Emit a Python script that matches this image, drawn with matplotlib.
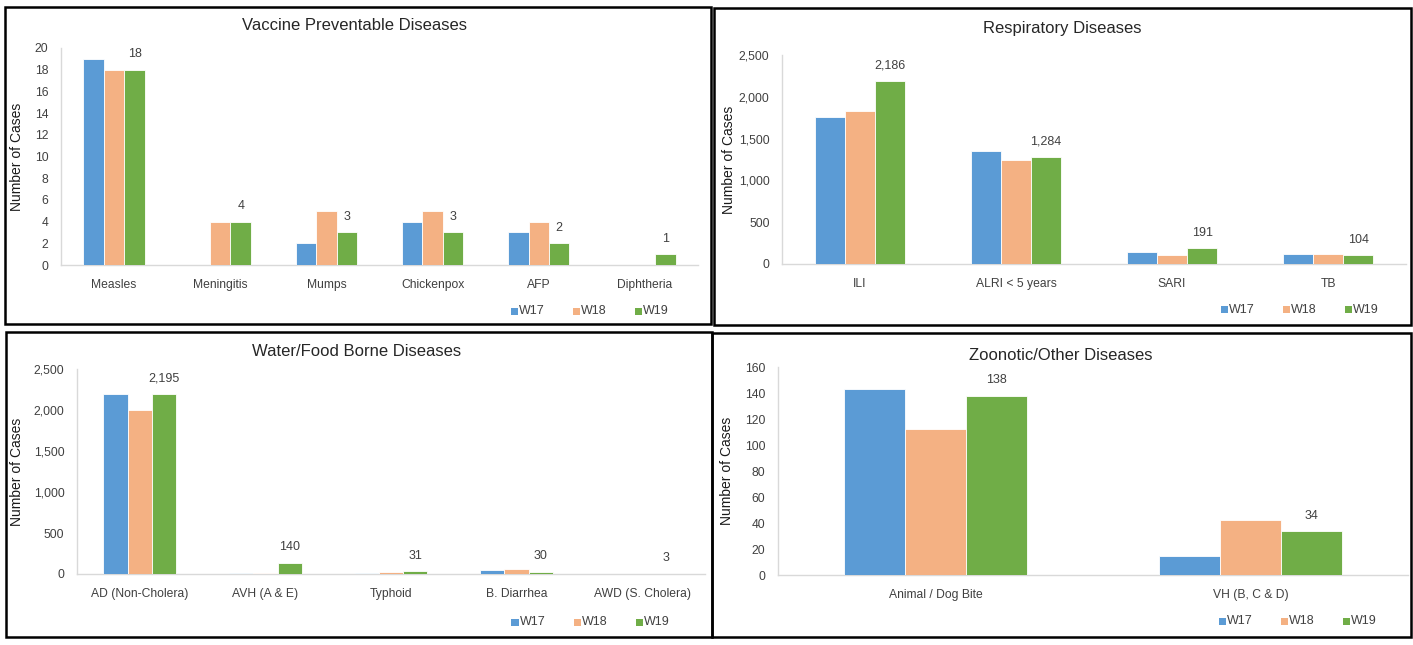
import matplotlib
matplotlib.use("Agg")
import matplotlib.pyplot as plt
from matplotlib.patches import Rectangle
from matplotlib.ticker import FuncFormatter
import numpy as np

# ---------------- data ----------------
series_names = ["W17", "W18", "W19"]

vpd_categories = ["Measles", "Meningitis", "Mumps", "Chickenpox", "AFP", "Diphtheria"]
vpd_w17 = [19, 0, 2, 4, 3, 0]
vpd_w18 = [18, 4, 5, 5, 4, 0]
vpd_w19 = [18, 4, 3, 3, 2, 1]
vpd_ticks = [0, 2, 4, 6, 8, 10, 12, 14, 16, 18, 20]

resp_categories = ["ILI", "ALRI < 5 years", "SARI", "TB"]
resp_w17 = [1764, 1357, 145, 125]
resp_w18 = [1830, 1243, 110, 115]
resp_w19 = [2186, 1284, 191, 104]
resp_ticks = [0, 500, 1000, 1500, 2000, 2500]

wfb_categories = ["AD (Non-Cholera)", "AVH (A & E)", "Typhoid", "B. Diarrhea", "AWD (S. Cholera)"]
wfb_w17 = [2200, 12, 16, 45, 0]
wfb_w18 = [2000, 10, 28, 65, 0]
wfb_w19 = [2195, 140, 31, 30, 3]
wfb_ticks = [0, 500, 1000, 1500, 2000, 2500]

zoo_categories = ["Animal / Dog Bite", "VH (B, C & D)"]
zoo_w17 = [143, 15]
zoo_w18 = [112, 42]
zoo_w19 = [138, 34]
zoo_ticks = [0, 20, 40, 60, 80, 100, 120, 140, 160]

titles = ["Vaccine Preventable Diseases", "Respiratory Diseases",
          "Water/Food Borne Diseases", "Zoonotic/Other Diseases"]

colors = ["#5B9BD5", "#F4B183", "#70AD47"]

# ---------------- layout ----------------
W, H = 1413, 645
fig = plt.figure(figsize=(W / 100, H / 100), dpi=100)
fig.patch.set_facecolor("white")

TICK_FONT = ["Liberation Sans", "DejaVu Sans"]
TITLE_FONT = ["Liberation Sans", "DejaVu Sans"]
TXT = "#404040"


def px_rect(x0, y0, x1, y1):
    return [x0 / W, 1 - y1 / H, (x1 - x0) / W, (y1 - y0) / H]


def frame(x0, y0, x1, y1):
    fig.patches.append(Rectangle((x0 / W, 1 - y1 / H), (x1 - x0) / W, (y1 - y0) / H,
                                 transform=fig.transFigure, fill=False,
                                 edgecolor="black", linewidth=1.8, zorder=10))


def fmt_thousands(v, pos):
    return f"{int(v):,}"


def panel(box, plot, cats, data, ticks, title, title_xy, ylabel_x, legend_y, legend_x0):
    frame(*box)
    ax = fig.add_axes(px_rect(*plot))
    n = len(cats)
    x = np.arange(n)
    bw = 0.193
    for i, (vals, c) in enumerate(zip(data, colors)):
        ax.bar(x + (i - 1) * bw, vals, width=bw, color=c, edgecolor="white",
               linewidth=0.6, label=series_names[i], zorder=3)
    # data labels for W19
    for xi, v in zip(x, data[2]):
        ax.annotate(f"{v:,}", (xi + bw, v), xytext=(0, 11), textcoords="offset points",
                    ha="center", va="center", fontsize=9, color=TXT, family=TICK_FONT)
    ax.set_xlim(-0.5, n - 0.5)
    ax.set_ylim(ticks[0], ticks[-1])
    ax.set_yticks(ticks)
    ax.yaxis.set_major_formatter(FuncFormatter(fmt_thousands))
    ax.set_xticks(x)
    ax.set_xticklabels(cats)
    ax.tick_params(axis="both", length=0, labelsize=8.7, colors=TXT)
    ax.tick_params(axis="x", pad=10)
    ax.tick_params(axis="y", pad=9)
    for lab in ax.get_xticklabels() + ax.get_yticklabels():
        lab.set_family(TICK_FONT)
    for s in ["top", "right"]:
        ax.spines[s].set_visible(False)
    for s in ["left", "bottom"]:
        ax.spines[s].set_color("#D9D9D9")
        ax.spines[s].set_linewidth(1.0)
    ax.set_facecolor("none")
    # title
    fig.text(title_xy[0] / W, 1 - title_xy[1] / H, title, ha="center", va="center",
             fontsize=12, color="#262626", family=TITLE_FONT)
    # y label
    yc = (plot[1] + plot[3]) / 2
    fig.text(ylabel_x / W, 1 - yc / H, "Number of Cases", rotation=90, ha="center",
             va="center", fontsize=10, color="#1a1a1a", family=TITLE_FONT)
    # legend
    for i, name in enumerate(series_names):
        lx = legend_x0 + i * 62
        fig.patches.append(Rectangle(((lx - 3.5) / W, 1 - (legend_y + 3.5) / H), 7 / W, 7 / H,
                                     transform=fig.transFigure, facecolor=colors[i],
                                     edgecolor="none"))
        fig.text((lx + 5) / W, 1 - legend_y / H, name, ha="left", va="center",
                 fontsize=9, color=TXT, family=TICK_FONT)
    return ax


panel((5, 7, 711, 324), (61, 48, 698, 265), vpd_categories,
      [vpd_w17, vpd_w18, vpd_w19], vpd_ticks, titles[0], (354, 25), 17, 311, 514)
panel((714, 8, 1411, 325), (782, 55, 1406, 264), resp_categories,
      [resp_w17, resp_w18, resp_w19], resp_ticks, titles[1], (1062, 29), 729, 310, 1224)
panel((6, 332, 712, 637), (77, 369, 705, 574), wfb_categories,
      [wfb_w17, wfb_w18, wfb_w19], wfb_ticks, titles[2], (357, 351), 17, 622, 515)
panel((712, 333, 1411, 637), (778, 367, 1408, 575), zoo_categories,
      [zoo_w17, zoo_w18, zoo_w19], zoo_ticks, titles[3], (1061, 355), 727, 621, 1222)

fig.savefig("out.png", dpi=100, facecolor="white")
